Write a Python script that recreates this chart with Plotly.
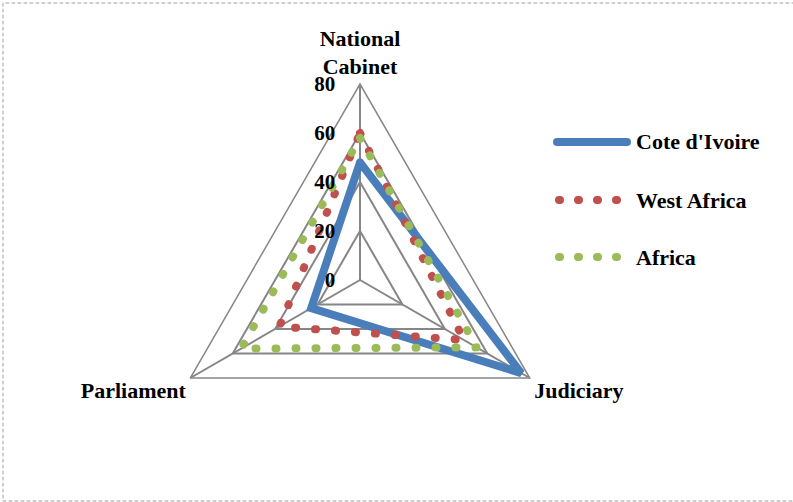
import plotly.graph_objects as go

# Data
categories = ["National Cabinet", "Judiciary", "Parliament"]
category_labels = ["National<br>Cabinet", "Judiciary", "Parliament"]
series_names = ["Cote d'Ivoire", "West Africa", "Africa"]
cote_divoire = [48, 76, 23]
west_africa = [60, 49, 38]
africa = [58, 55, 56]
radial_ticks = [0, 20, 40, 60, 80]

W, H = 793, 502
FONT = "Liberation Serif"
GRID = "#868686"
colors = {"Cote d'Ivoire": "#4A7EBB", "West Africa": "#C0504D", "Africa": "#9BBB59"}


def closed(vals):
    return vals + vals[:1]


fig = go.Figure()

fig.add_trace(go.Scatterpolar(
    r=closed(cote_divoire), theta=closed(categories), mode="lines",
    name=series_names[0], fill="toself", fillcolor="rgba(0,0,0,0)",
    line=dict(color=colors["Cote d'Ivoire"], width=8),
))
fig.add_trace(go.Scatterpolar(
    r=closed(west_africa), theta=closed(categories), mode="lines",
    name=series_names[1],
    line=dict(color=colors["West Africa"], width=8, dash="1px,19px"),
))
fig.add_trace(go.Scatterpolar(
    r=closed(africa), theta=closed(categories), mode="lines",
    name=series_names[2],
    line=dict(color=colors["Africa"], width=8, dash="1px,19px"),
))

# polar area: centre (360, 280), radius 196 px
cx, cy, R = 360, 280, 196
fig.update_layout(
    width=W, height=H,
    margin=dict(l=0, r=0, t=0, b=0),
    paper_bgcolor="white",
    showlegend=False,
    polar=dict(
        domain=dict(x=[(cx - R) / W, (cx + R) / W], y=[(H - cy - R) / H, (H - cy + R) / H]),
        gridshape="linear",
        bgcolor="white",
        radialaxis=dict(
            range=[0, 80], tickvals=radial_ticks, angle=90, side="counterclockwise",
            tickangle=90,
            showline=False, ticks="outside", ticklen=17, tickcolor="rgba(0,0,0,0)",
            gridcolor=GRID, gridwidth=1.5,
            tickfont=dict(family=FONT, size=21, color="black", weight="bold"),
        ),
        angularaxis=dict(
            rotation=90, direction="clockwise", type="category",
            categoryarray=categories, tickmode="array",
            tickvals=categories, ticktext=category_labels,
            showline=True, linecolor=GRID, linewidth=1.5,
            gridcolor=GRID, gridwidth=1.5, ticks="",
            tickfont=dict(family=FONT, size=22, color="black", weight="bold"),
        ),
    ),
)

# legend on the right
legend_y = [142, 200, 257]
shapes = [dict(type="rect", xref="paper", yref="paper", x0=3 / W, x1=1.01,
               y0=1 - 501 / H, y1=1 - 3 / H, line=dict(color="#A0A0A0", width=1, dash="dot"))]
annotations = []
for name, py in zip(series_names, legend_y):
    if name == "Cote d'Ivoire":
        x0, x1, dash = 557, 627, "solid"
    else:
        x0, x1, dash = 559, 617, "1px,18px"
    shapes.append(dict(type="line", xref="paper", yref="paper",
                       x0=x0 / W, x1=x1 / W, y0=1 - py / H, y1=1 - py / H,
                       line=dict(color=colors[name], width=8, dash=dash)))
    annotations.append(dict(xref="paper", yref="paper", x=634 / W, y=1 - py / H,
                            xanchor="left", yanchor="middle", showarrow=False,
                            text=name, font=dict(family=FONT, size=22, color="black", weight="bold")))
fig.update_layout(shapes=shapes, annotations=annotations)

# round line ends turn the short dashes into dots
post = """
var gd = document.getElementById('{plot_id}');
function roundCaps(){
  gd.querySelectorAll('.scatterlayer path.js-line, .shapelayer path').forEach(function(p){
    p.style.strokeLinecap = 'round';
  });
}
roundCaps();
gd.on('plotly_afterplot', roundCaps);
"""
fig.write_html("out.html", post_script=post)
